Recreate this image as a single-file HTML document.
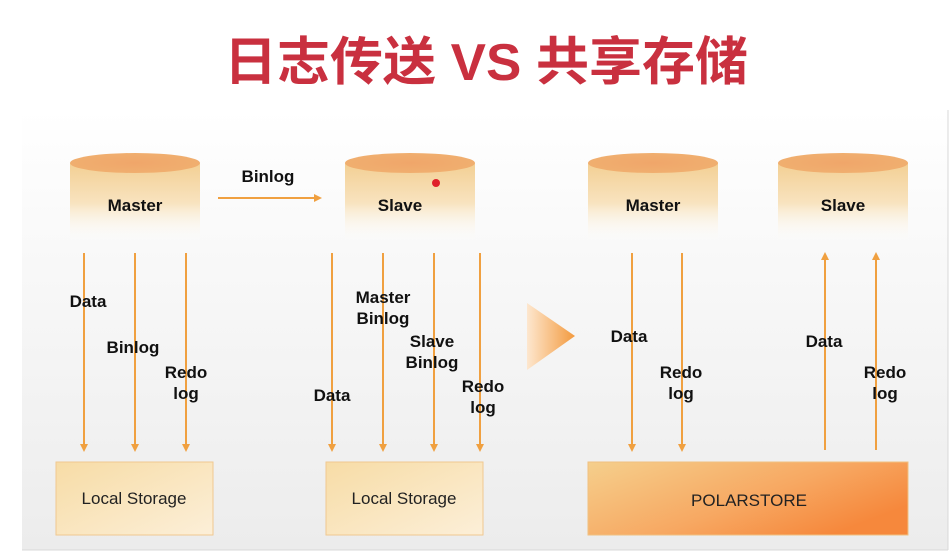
<!DOCTYPE html>
<html><head><meta charset="utf-8"><style>
html,body{margin:0;padding:0;background:#fff;}
svg{display:block}
text{font-family:"Liberation Sans","Noto Sans CJK SC",sans-serif;}
.l{font-weight:bold;font-size:17px;fill:#111}
</style></head><body>
<svg width="950" height="558" viewBox="0 0 950 558" xmlns="http://www.w3.org/2000/svg">
<defs>
<linearGradient id="bg" x1="0" y1="0" x2="0" y2="1">
<stop offset="0" stop-color="#ffffff"/><stop offset="0.15" stop-color="#fcfcfc"/><stop offset="1" stop-color="#ececec"/>
</linearGradient>
<linearGradient id="cyl" x1="0" y1="0" x2="0" y2="1">
<stop offset="0" stop-color="#f3cf93"/><stop offset="0.5" stop-color="#f8e3bf"/><stop offset="1" stop-color="#ffffff" stop-opacity="0"/>
</linearGradient>
<radialGradient id="top" cx="0.5" cy="0.5" r="0.6">
<stop offset="0" stop-color="#f0a66a"/><stop offset="1" stop-color="#f0b070"/>
</radialGradient>
<linearGradient id="box" x1="0" y1="0" x2="1" y2="1">
<stop offset="0" stop-color="#f7dca6"/><stop offset="1" stop-color="#fcefd8"/>
</linearGradient>
<linearGradient id="pbox" x1="0" y1="0" x2="1" y2="0.6">
<stop offset="0" stop-color="#f5cf8c"/><stop offset="0.6" stop-color="#f7a862"/><stop offset="1" stop-color="#f6883c"/>
</linearGradient>
<linearGradient id="tri" x1="0" y1="0" x2="1" y2="0">
<stop offset="0" stop-color="#fde7cf"/><stop offset="1" stop-color="#f39a3e"/>
</linearGradient>
<marker id="ah" markerWidth="8" markerHeight="8" refX="4" refY="4" orient="auto" markerUnits="userSpaceOnUse">
<path d="M0,0 L8,4 L0,8 z" fill="#f0a040"/></marker>
</defs>
<rect x="0" y="0" width="950" height="558" fill="#fff"/>
<rect x="22" y="110" width="926" height="440" fill="url(#bg)"/>
<line x1="22" y1="550" x2="948" y2="550" stroke="#d8d8d8"/>
<line x1="948" y1="110" x2="948" y2="550" stroke="#d8d8d8"/>

<text x="486" y="80" text-anchor="middle" font-size="52" font-weight="bold" fill="#c9303f" textLength="524" lengthAdjust="spacingAndGlyphs">日志传送 VS 共享存储</text>

<g>
<rect x="70" y="163" width="130" height="80" fill="url(#cyl)"/><ellipse cx="135" cy="163" rx="65" ry="10" fill="url(#top)"/>
<rect x="345" y="163" width="130" height="80" fill="url(#cyl)"/><ellipse cx="410" cy="163" rx="65" ry="10" fill="url(#top)"/>
<rect x="588" y="163" width="130" height="80" fill="url(#cyl)"/><ellipse cx="653" cy="163" rx="65" ry="10" fill="url(#top)"/>
<rect x="778" y="163" width="130" height="80" fill="url(#cyl)"/><ellipse cx="843" cy="163" rx="65" ry="10" fill="url(#top)"/>
</g>
<text class="l" x="135" y="211" text-anchor="middle">Master</text>
<text class="l" x="400" y="211" text-anchor="middle">Slave</text>
<text class="l" x="653" y="211" text-anchor="middle">Master</text>
<text class="l" x="843" y="211" text-anchor="middle">Slave</text>
<circle cx="436" cy="183" r="4" fill="#e0202a"/>

<line x1="218" y1="198" x2="318" y2="198" stroke="#f0a040" stroke-width="2" marker-end="url(#ah)"/>
<text class="l" x="268" y="182" text-anchor="middle">Binlog</text>

<g stroke="#f0a040" stroke-width="2" marker-end="url(#ah)">
<line x1="84" y1="253" x2="84" y2="448"/><line x1="135" y1="253" x2="135" y2="448"/><line x1="186" y1="253" x2="186" y2="448"/>
<line x1="332" y1="253" x2="332" y2="448"/><line x1="383" y1="253" x2="383" y2="448"/><line x1="434" y1="253" x2="434" y2="448"/><line x1="480" y1="253" x2="480" y2="448"/>
<line x1="632" y1="253" x2="632" y2="448"/><line x1="682" y1="253" x2="682" y2="448"/>
<line x1="825" y1="450" x2="825" y2="256"/><line x1="876" y1="450" x2="876" y2="256"/>
</g>

<text class="l" x="88" y="307" text-anchor="middle">Data</text>
<text class="l" x="133" y="353" text-anchor="middle">Binlog</text>
<text class="l" x="186" y="378" text-anchor="middle">Redo</text><text class="l" x="186" y="399" text-anchor="middle">log</text>
<text class="l" x="383" y="303" text-anchor="middle">Master</text><text class="l" x="383" y="324" text-anchor="middle">Binlog</text>
<text class="l" x="432" y="347" text-anchor="middle">Slave</text><text class="l" x="432" y="368" text-anchor="middle">Binlog</text>
<text class="l" x="483" y="392" text-anchor="middle">Redo</text><text class="l" x="483" y="413" text-anchor="middle">log</text>
<text class="l" x="332" y="401" text-anchor="middle">Data</text>
<text class="l" x="629" y="342" text-anchor="middle">Data</text>
<text class="l" x="681" y="378" text-anchor="middle">Redo</text><text class="l" x="681" y="399" text-anchor="middle">log</text>
<text class="l" x="824" y="347" text-anchor="middle">Data</text>
<text class="l" x="885" y="378" text-anchor="middle">Redo</text><text class="l" x="885" y="399" text-anchor="middle">log</text>

<path d="M527,303 L575,336 L527,370 z" fill="url(#tri)"/>

<rect x="56" y="462" width="157" height="73" fill="url(#box)" stroke="#f0c890"/>
<rect x="326" y="462" width="157" height="73" fill="url(#box)" stroke="#f0c890"/>
<rect x="588" y="462" width="320" height="73" fill="url(#pbox)" stroke="#f0c080"/>
<text x="134" y="504" text-anchor="middle" font-size="17" fill="#222">Local Storage</text>
<text x="404" y="504" text-anchor="middle" font-size="17" fill="#222">Local Storage</text>
<text x="749" y="506" text-anchor="middle" font-size="17" fill="#222">POLARSTORE</text>
</svg>
</body></html>
